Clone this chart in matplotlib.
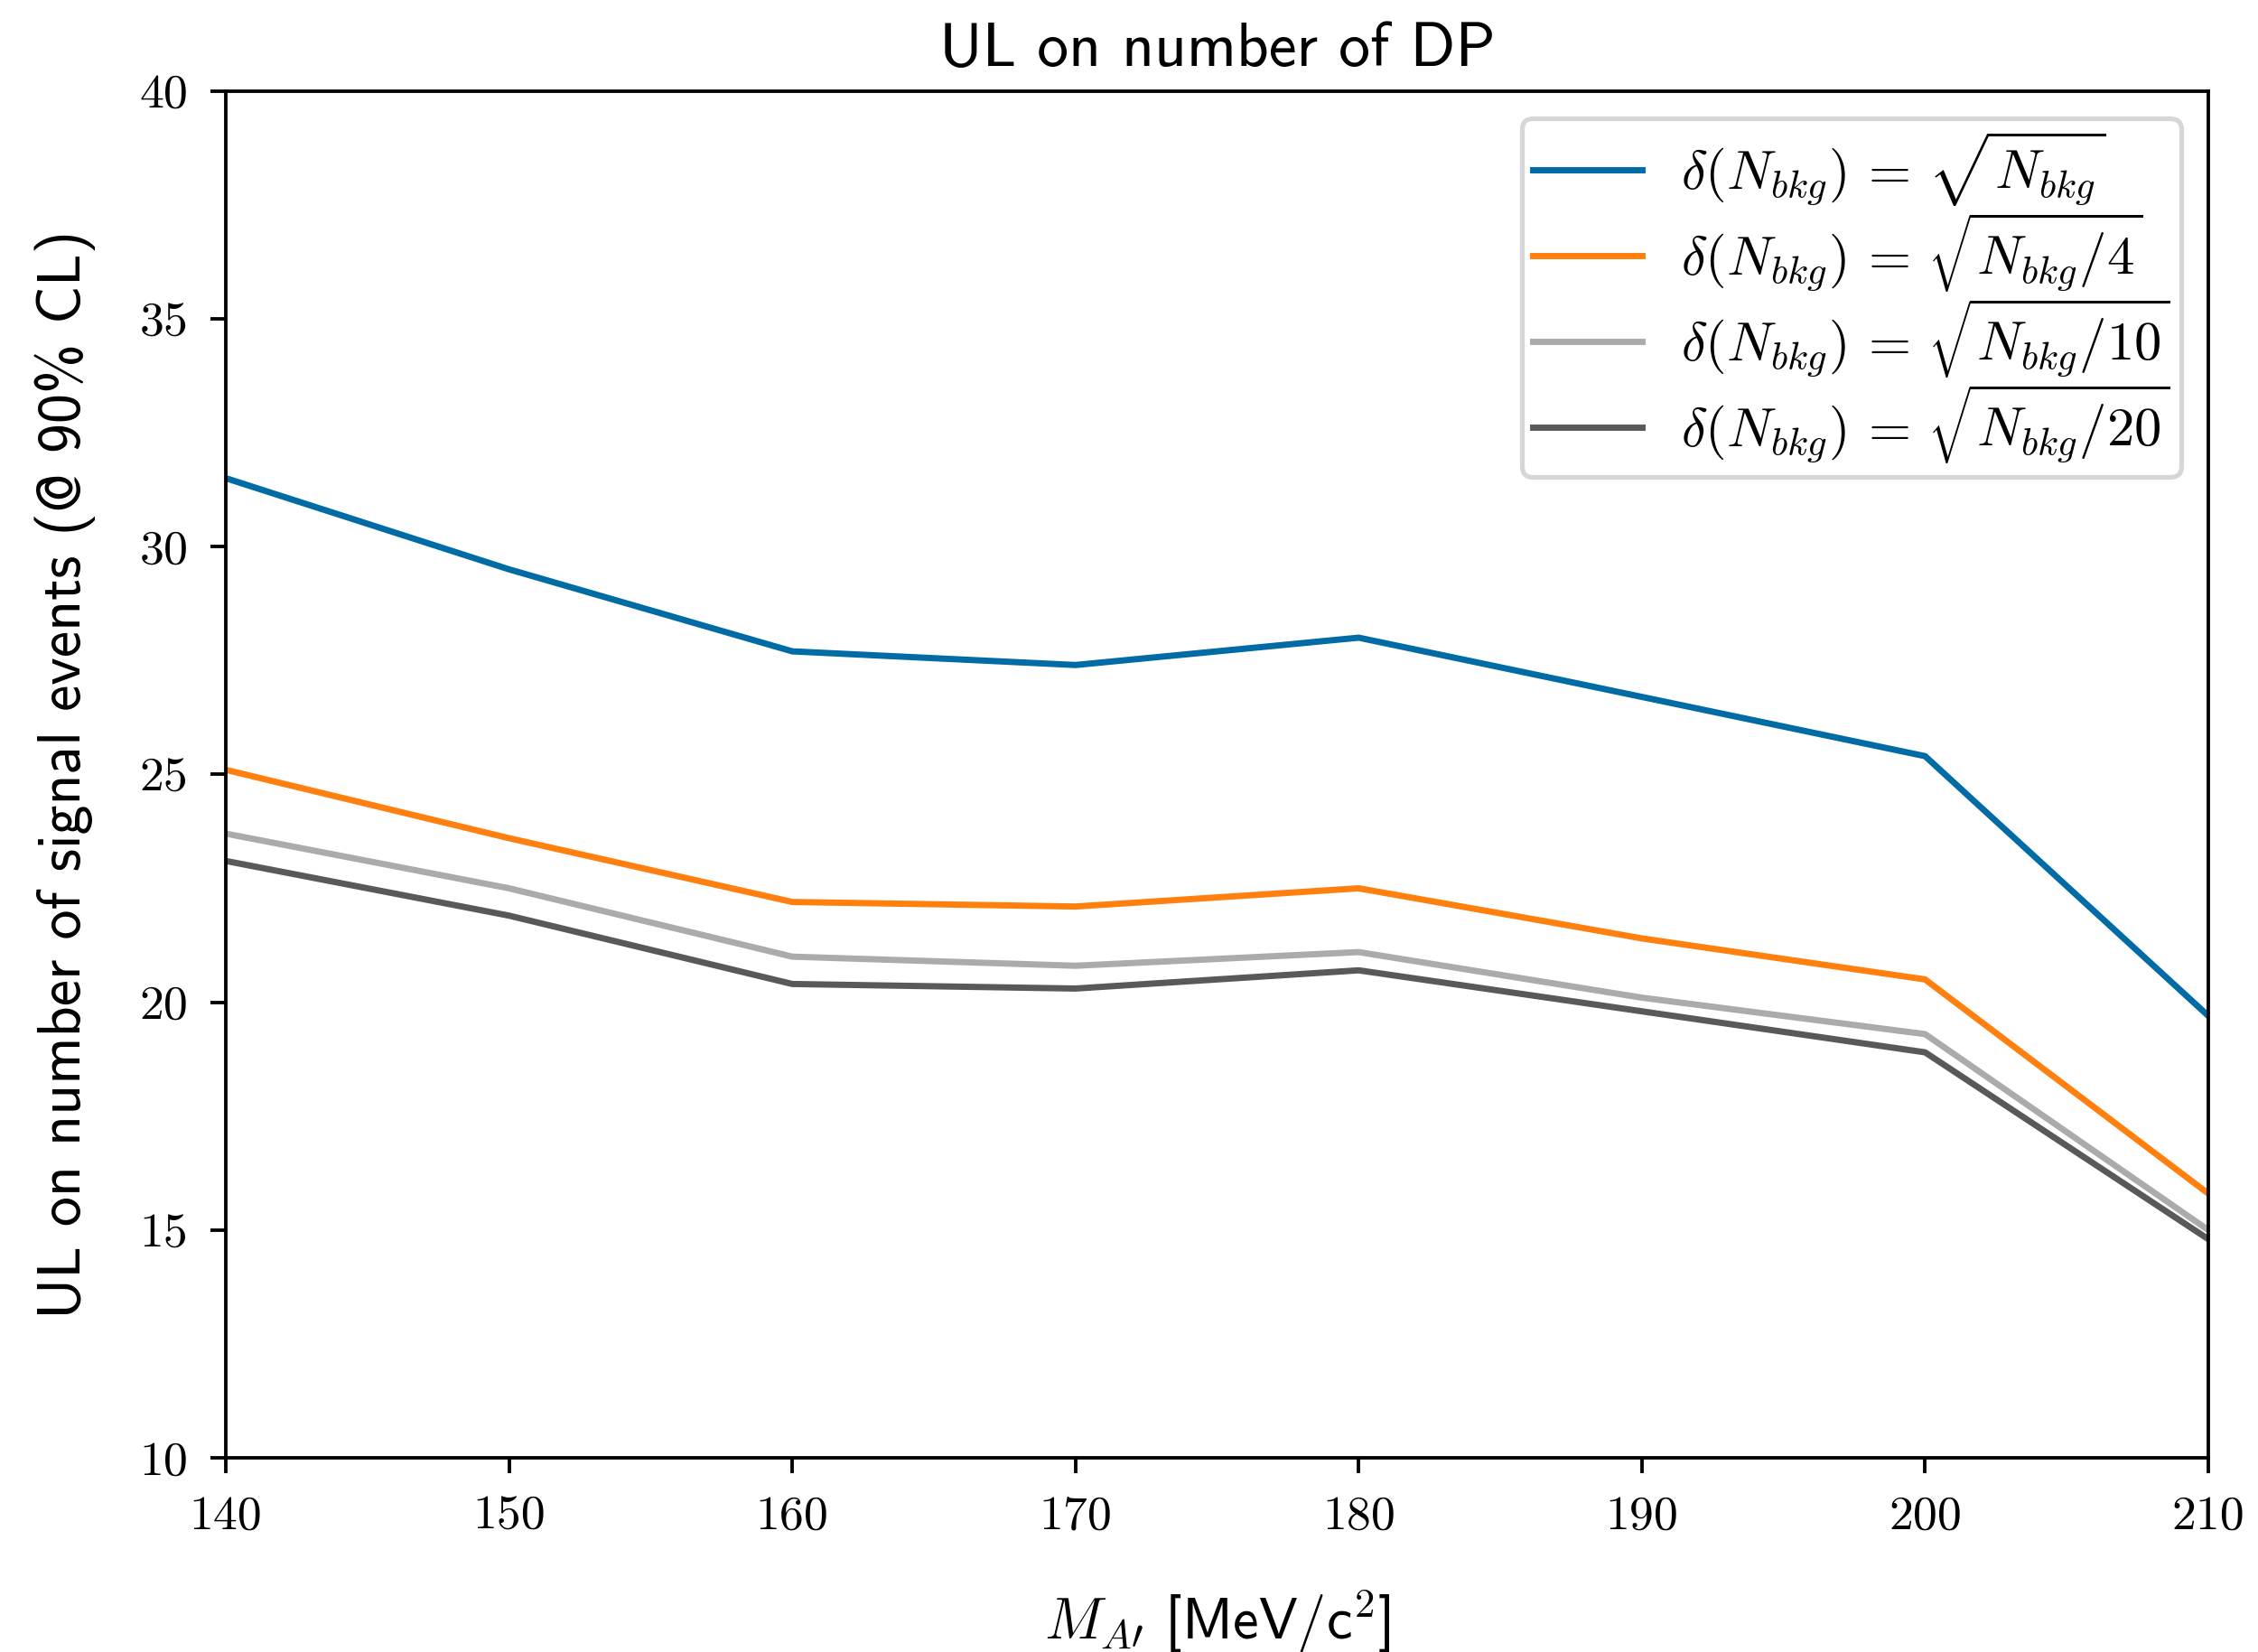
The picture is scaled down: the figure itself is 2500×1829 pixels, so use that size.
import matplotlib
matplotlib.use("Agg")
import matplotlib.pyplot as plt

mass = [140, 150, 160, 170, 180, 190, 200, 210]
ul_sqrt = [31.5, 29.5, 27.7, 27.4, 28.0, 26.7, 25.4, 19.7]
ul_sqrt4 = [25.1, 23.6, 22.2, 22.1, 22.5, 21.4, 20.5, 15.8]
ul_sqrt10 = [23.7, 22.5, 21.0, 20.8, 21.1, 20.1, 19.3, 15.0]
ul_sqrt20 = [23.1, 21.9, 20.4, 20.3, 20.7, 19.8, 18.9, 14.8]
labels = [r'$\delta(N_{bkg})\,=\,\sqrt{N_{bkg}}$',
          r'$\delta(N_{bkg})\,=\,\sqrt{N_{bkg}/4}$',
          r'$\delta(N_{bkg})\,=\,\sqrt{N_{bkg}/10}$',
          r'$\delta(N_{bkg})\,=\,\sqrt{N_{bkg}/20}$']

plt.style.use('tableau-colorblind10')
plt.rcParams['mathtext.fontset'] = 'cm'
plt.rcParams['axes.linewidth'] = 1.1

fig = plt.figure(figsize=(10, 7.316), dpi=250)
ax = fig.add_axes([0.1, 0.1175, 0.878, 0.8275])

for ys, lab in zip([ul_sqrt, ul_sqrt4, ul_sqrt10, ul_sqrt20], labels):
    ax.plot(mass, ys, lw=2, label=lab)

ax.set_xlim(140, 210)
ax.set_ylim(10, 40)
ax.tick_params(direction='out', length=5, width=1.1, labelsize=15.5, pad=7)
for t in ax.get_xticklabels() + ax.get_yticklabels():
    t.set_fontfamily('cmr10')

ax.set_title('UL on number of DP', fontsize=20, fontfamily='cmss10', pad=8)
ax.set_ylabel('UL on number of signal events (@ 90% CL)', fontsize=19, fontfamily='cmss10', labelpad=14)
ax.set_xlabel(r"$M_{A\prime}$ [MeV/c$^2$]", fontsize=18.5, fontfamily='cmss10', labelpad=16)

leg = ax.legend(loc='upper right', fontsize=17.5, handlelength=2.0, labelspacing=0.04,
                borderpad=0.2, handletextpad=0.7)
leg.get_frame().set_linewidth(1.5)

fig.savefig('out.png', dpi=250)
